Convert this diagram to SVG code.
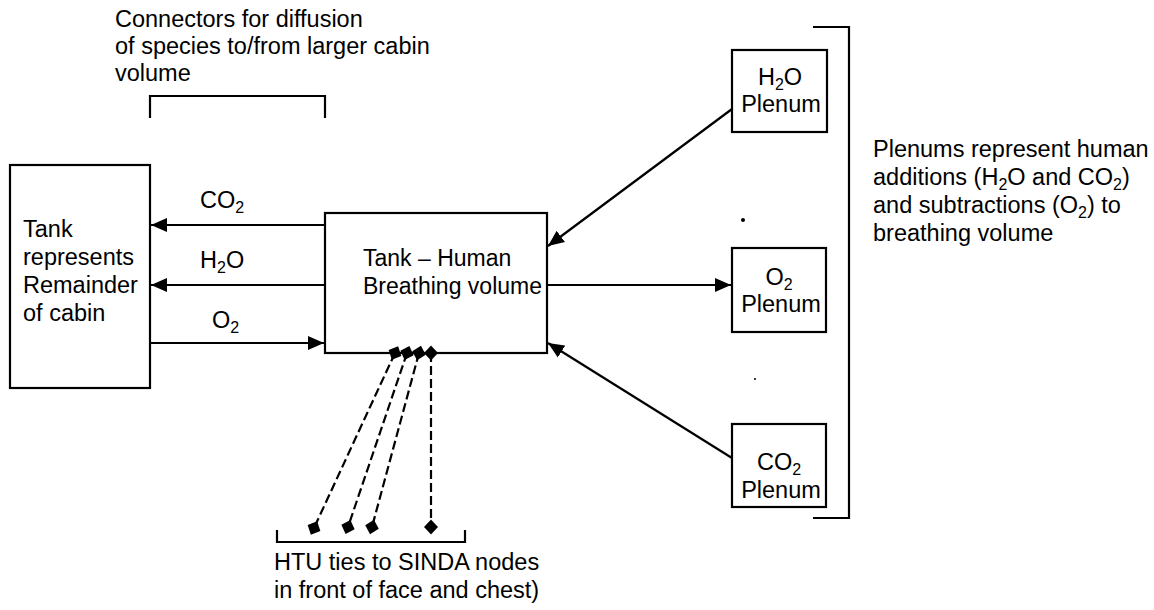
<svg xmlns="http://www.w3.org/2000/svg" width="1154" height="610" viewBox="0 0 1154 610">
<defs>
<style>
text{font-family:"Liberation Sans",Arial,sans-serif;font-size:23.5px;fill:#000}
.sub{font-size:16px}
.m{font-size:23px}
.box{fill:#fff;stroke:#000;stroke-width:2.2}
.ln{fill:none;stroke:#000;stroke-width:2.2}
.ar{fill:none;stroke:#000;stroke-width:2.2;marker-end:url(#arr)}
.ds{fill:none;stroke:#000;stroke-width:2.2;stroke-dasharray:9 4;marker-start:url(#dia);marker-end:url(#dia)}
</style>
<marker id="arr" markerUnits="userSpaceOnUse" markerWidth="18" markerHeight="16" viewBox="0 -8 18 16" refX="16" refY="0" orient="auto">
<path d="M0,-7 L16,0 L0,7 z" fill="#000"/>
</marker>
<marker id="dia" markerUnits="userSpaceOnUse" markerWidth="18" markerHeight="16" viewBox="-9 -8 18 16" refX="0" refY="0" orient="auto">
<path d="M-7.5,0 L0,-7 L7.5,0 L0,7 z" fill="#000"/>
</marker>
</defs>

<g id="top-note">
<text x="115" y="27">Connectors for diffusion</text>
<text x="115" y="54">of species to/from larger cabin</text>
<text x="115" y="81">volume</text>
<path class="ln" d="M150,118 V96 H325 V118"/>
</g>

<g id="cabin-tank">
<rect class="box" x="10" y="165" width="140" height="223"/>
<text x="23" y="237">Tank</text>
<text x="23" y="265">represents</text>
<text x="23" y="293">Remainder</text>
<text x="23" y="321">of cabin</text>
</g>

<g id="breathing-tank">
<rect class="box" x="325" y="213" width="222" height="140"/>
<text class="m" x="363" y="266">Tank – Human</text>
<text class="m" x="363" y="294">Breathing volume</text>
</g>

<g id="h2o-plenum">
<rect class="box" x="732" y="50" width="95" height="82"/>
<text x="780" y="85" text-anchor="middle">H<tspan class="sub" dy="5">2</tspan><tspan dy="-5">O</tspan></text>
<text x="781" y="112" text-anchor="middle">Plenum</text>
</g>

<g id="o2-plenum">
<rect class="box" x="732" y="248" width="94" height="84"/>
<text x="779" y="285" text-anchor="middle">O<tspan class="sub" dy="5">2</tspan></text>
<text x="781" y="312" text-anchor="middle">Plenum</text>
</g>

<g id="co2-plenum">
<rect class="box" x="732" y="424" width="94" height="83"/>
<text x="779" y="470" text-anchor="middle">CO<tspan class="sub" dy="5">2</tspan></text>
<text x="781" y="498" text-anchor="middle">Plenum</text>
</g>

<g id="plenum-note">
<path class="ln" d="M813,27 H849 V518 H813"/>
<text x="873" y="157">Plenums represent human</text>
<text x="873" y="185">additions (H<tspan class="sub" dy="5">2</tspan><tspan dy="-5">O and CO</tspan><tspan class="sub" dy="5">2</tspan><tspan dy="-5">)</tspan></text>
<text x="873" y="213">and subtractions (O<tspan class="sub" dy="5">2</tspan><tspan dy="-5">) to</tspan></text>
<text x="873" y="241">breathing volume</text>
</g>

<g id="htu-note">
<path class="ln" d="M277,530 V542 H465 V530"/>
<text x="274" y="570">HTU ties to SINDA nodes</text>
<text x="274" y="598">in front of face and chest)</text>
</g>

<g id="connectors">
<path class="ar" d="M325,225 H151"/>
<path class="ar" d="M325,285 H151"/>
<path class="ar" d="M150,343 H324"/>
<path class="ar" d="M732,109 L548,246"/>
<path class="ar" d="M547,285 H731"/>
<path class="ar" d="M732,458 L548,343"/>
<path class="ds" d="M395,353 L314,528"/>
<path class="ds" d="M407,353 L348,527"/>
<path class="ds" d="M419,353 L372,527"/>
<path class="ds" d="M431,353 L431,527"/>
</g>

<g id="labels">
<text x="200" y="208">CO<tspan class="sub" dy="5">2</tspan></text>
<text x="200" y="268">H<tspan class="sub" dy="5">2</tspan><tspan dy="-5">O</tspan></text>
<text x="212" y="328">O<tspan class="sub" dy="5">2</tspan></text>
</g>

<g id="specks" fill="#000">
<circle cx="743" cy="220" r="2"/>
<circle cx="755" cy="379" r="1"/>
</g>
</svg>
